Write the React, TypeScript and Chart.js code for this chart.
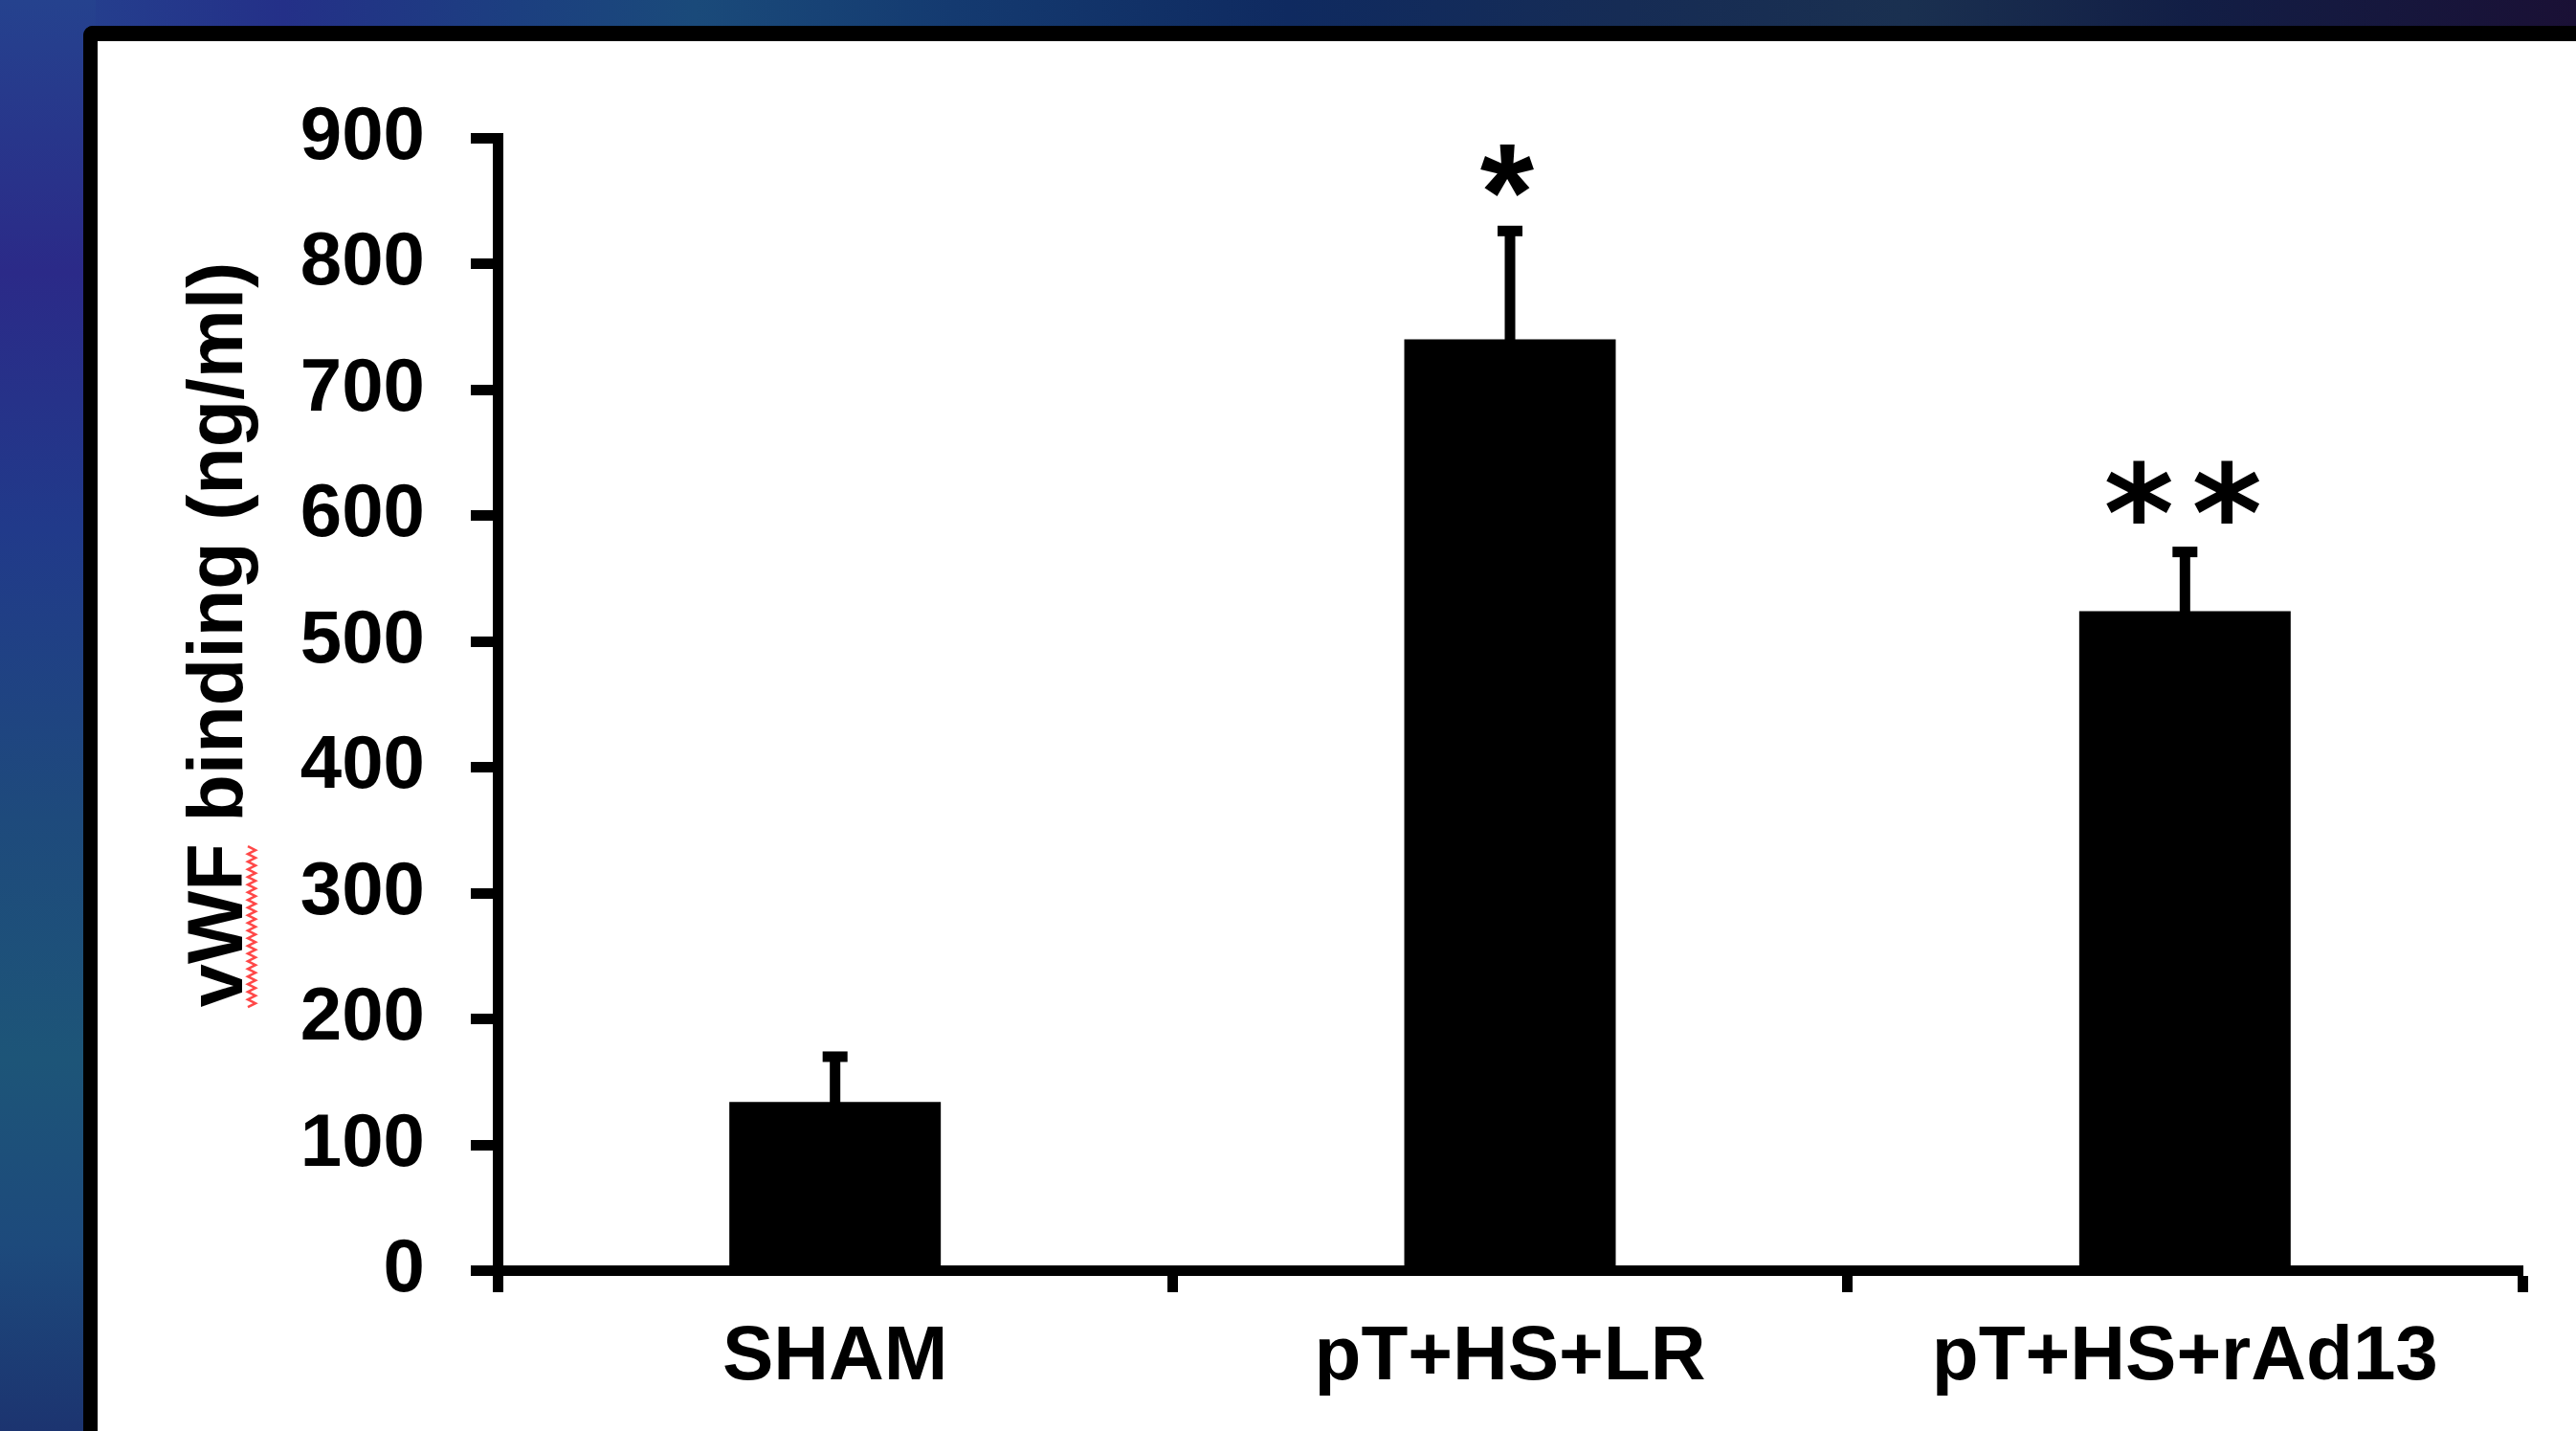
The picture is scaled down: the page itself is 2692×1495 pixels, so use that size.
import React, { useEffect, useRef } from "react";
import { Chart, registerables } from "chart.js";

Chart.register(...registerables);

// ---- data ----
const categories: string[] = ["SHAM", "pT+HS+LR", "pT+HS+rAd13"];
const means: number[] = [134, 740, 524];
const errors: number[] = [36, 86, 47];
const significance: string[] = ["", "*", "**"];
const yTickValues: number[] = [0, 100, 200, 300, 400, 500, 600, 700, 800, 900];
const yAxisTitle = "vWF binding (ng/ml)";
const underlinedWord = "vWF";

const FONT = "'Liberation Sans', Arial, sans-serif";

const errorBarPlugin = {
  id: "errorBars",
  afterDatasetsDraw(chart: any) {
    const ctx = chart.ctx;
    const meta = chart.getDatasetMeta(0);
    const yScale = chart.scales.y;
    ctx.save();
    ctx.fillStyle = "#000";
    meta.data.forEach((bar: any, i: number) => {
      const x = bar.x;
      const top = yScale.getPixelForValue(means[i] + errors[i]);
      const barTop = bar.y;
      // stem
      ctx.fillRect(x - 5.5, top, 11, barTop - top + 1);
      // cap
      ctx.fillRect(x - 13, top - 5.5, 26, 11);
      // significance asterisks
      const sig = significance[i];
      if (sig) {
        const cy = top - 63;
        const n = sig.length;
        const fam = n === 1 ? FONT : "'DejaVu Sans', sans-serif";
        const targetH = n === 1 ? 55 : 66;
        ctx.font = `bold 100px ${fam}`;
        const m0 = ctx.measureText("*");
        const h0 = m0.actualBoundingBoxAscent + m0.actualBoundingBoxDescent;
        const size = (100 * targetH) / h0;
        ctx.font = `bold ${size}px ${fam}`;
        ctx.textAlign = "center";
        ctx.textBaseline = "alphabetic";
        const m = ctx.measureText("*");
        const baseline = cy + (m.actualBoundingBoxAscent - m.actualBoundingBoxDescent) / 2;
        const spacing = 92;
        for (let k = 0; k < n; k++) {
          const cx = x - 3 + (k - (n - 1) / 2) * spacing + (n > 1 ? 1 : 0);
          ctx.fillText("*", cx, baseline);
        }
      }
    });
    ctx.restore();
  },
};

const titlePlugin = {
  id: "yTitle",
  afterDraw(chart: any) {
    const ctx = chart.ctx;
    ctx.save();
    ctx.translate(253, 663);
    ctx.rotate(-Math.PI / 2);
    ctx.font = `bold 81px ${FONT}`;
    ctx.fillStyle = "#000";
    ctx.textAlign = "center";
    ctx.textBaseline = "alphabetic";
    ctx.fillText(yAxisTitle, 0, 0);
    // spell-check style squiggle under the first word
    const total = ctx.measureText(yAxisTitle).width;
    const w = ctx.measureText(underlinedWord).width;
    const x0 = -total / 2;
    ctx.strokeStyle = "rgba(255,40,40,0.85)";
    ctx.lineWidth = 2.5;
    ctx.beginPath();
    let up = true;
    for (let x = x0; x <= x0 + w; x += 4) {
      const yy = up ? 6 : 14;
      if (x === x0) ctx.moveTo(x, yy);
      else ctx.lineTo(x, yy);
      up = !up;
    }
    ctx.stroke();
    ctx.restore();
  },
};

export default function App() {
  const canvasRef = useRef<HTMLCanvasElement | null>(null);

  useEffect(() => {
    const canvas = canvasRef.current;
    if (!canvas) return;
    const chart = new Chart(canvas, {
      type: "bar",
      data: {
        labels: categories,
        datasets: [
          {
            data: means,
            backgroundColor: "#000",
            borderWidth: 0,
            barPercentage: 0.3133,
            categoryPercentage: 1,
          },
        ],
      },
      options: {
        responsive: false,
        animation: false,
        devicePixelRatio: 1,
        layout: { padding: { top: 144, right: 56, left: 0, bottom: 0 } },
        plugins: {
          legend: { display: false },
          tooltip: { enabled: false },
        },
        scales: {
          x: {
            offset: true,
            grid: {
              offset: true,
              drawOnChartArea: false,
              tickLength: 22.5,
              tickWidth: 11,
              tickColor: "#000",
            },
            border: { display: true, color: "#000", width: 11 },
            ticks: {
              color: "#000",
              padding: 21,
              font: { family: FONT, size: 80, weight: "bold" },
              maxRotation: 0,
            },
            afterFit: (scale: any) => {
              scale.height = 167.5;
            },
          },
          y: {
            min: 0,
            max: 900,
            afterBuildTicks: (scale: any) => {
              scale.ticks = yTickValues.map((v) => ({ value: v }));
            },
            grid: {
              drawOnChartArea: false,
              tickLength: 28,
              tickWidth: 11,
              tickColor: "#000",
            },
            border: { display: true, color: "#000", width: 11 },
            ticks: {
              color: "#000",
              padding: 48,
              font: { family: FONT, size: 78, weight: "bold" },
            },
            afterFit: (scale: any) => {
              scale.width = 520;
            },
          },
        },
      },
      plugins: [errorBarPlugin, titlePlugin],
    });
    return () => chart.destroy();
  }, []);

  return (
    <div
      style={{
        position: "fixed",
        left: 0,
        top: 0,
        width: 2692,
        height: 1495,
        overflow: "hidden",
        background:
          "linear-gradient(90deg, #254590 0%, #243088 11%, #1c3f80 20%, #1a4a7a 27%, #143a70 37%, #0f2a60 50%, #162c55 63%, #1a3050 74%, #121e45 85%, #1a1035 100%)",
      }}
    >
      <div
        style={{
          position: "absolute",
          left: 0,
          top: 0,
          width: 100,
          height: 1495,
          background:
            "linear-gradient(180deg, #25428e 0%, #2b2a88 19%, #213a8a 37%, #1e4a7c 57%, #1d5578 74%, #1d4a7c 87%, #1c3470 100%)",
        }}
      />
      <div
        style={{
          position: "absolute",
          left: 87,
          top: 27,
          width: 2692 - 87 + 40,
          height: 1495 - 27 + 40,
          boxSizing: "border-box",
          background: "#fff",
          borderTop: "16px solid #000",
          borderLeft: "15px solid #000",
          borderTopLeftRadius: 10,
        }}
      />
      <canvas
        ref={canvasRef}
        width={2692}
        height={1495}
        style={{ position: "absolute", left: 0, top: 0, width: 2692, height: 1495 }}
      />
    </div>
  );
}
